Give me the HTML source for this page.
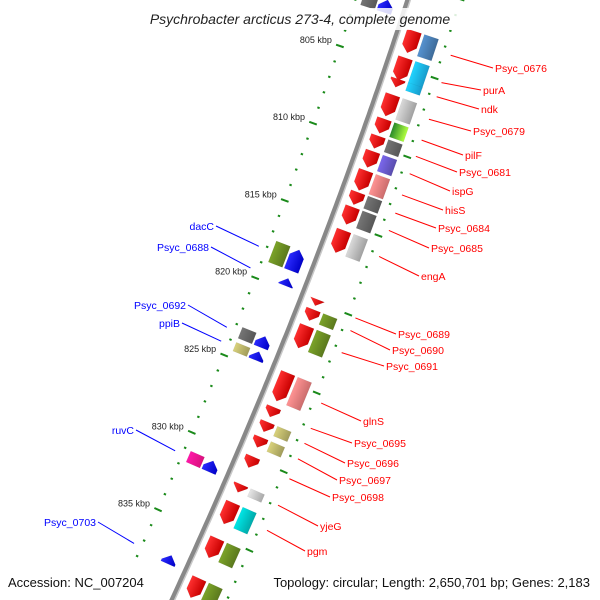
<!DOCTYPE html>
<html><head><meta charset="utf-8"><style>
html,body{margin:0;padding:0;background:#fff;overflow:hidden;width:600px;height:600px;}
svg{display:block;font-family:"Liberation Sans","DejaVu Sans",sans-serif;overflow:hidden;}
</style></head><body>
<svg id="map" width="600" height="600" viewBox="0 0 600 600" xmlns="http://www.w3.org/2000/svg">
<defs>
<clipPath id="frameclip"><rect x="0" y="0" width="600" height="600"/></clipPath>
</defs>
<g clip-path="url(#frameclip)">
<g id="backbone-layer"></g>
<g id="tick-layer"></g>
<g id="gene-layer"></g>
<g id="label-layer"></g>
</g>
<rect x="130" y="8" width="340" height="22" fill="#fff" opacity="0.85"/>
<text x="300" y="24" text-anchor="middle" font-size="14" font-style="italic" fill="#222">Psychrobacter arcticus 273-4, complete genome</text>
<text x="8" y="587" font-size="13" fill="#111">Accession: NC_007204</text>
<text x="590" y="587" text-anchor="end" font-size="13" fill="#111">Topology: circular; Length: 2,650,701 bp; Genes: 2,183</text>
</svg>
<script>
// ---- data ----
const geneStart = [802.53,804.23,805.70,806.60,808.20,809.30,810.25,811.45,812.90,813.80,815.25,819.80,820.40,821.35,824.30,826.65,827.60,828.57,829.80,831.60,832.65,834.95,837.50,
                   801.30,817.30,819.25,822.95,823.95,830.95,837.05];
const geneEnd   = [804.26,806.03,806.35,808.30,809.35,810.30,811.55,813.05,813.90,815.20,817.05,820.30,821.30,823.15,826.60,827.45,828.40,829.40,830.70,832.25,834.40,836.55,839.10,
                   802.30,819.00,819.85,823.85,824.65,831.85,837.75];
const geneStrand = [1,1,1,1,1,1,1,1,1,1,1,1,1,1,1,1,1,1,1,1,1,1,1,
                    -1,-1,-1,-1,-1,-1,-1];
const geneColor = ["#4a7fb5","#1cb8f0","#1cb8f0","#bdbdbd","pilF","#666666","#6a5acd","#f08080","#666666","#666666","#bdbdbd",null,"#6b8e23","#6b8e23","#f08080",null,"#bdb76b","#bdb76b",null,"#c8c8c8","#00c8c8","#6b8e23","#6b8e23",
                   "#666666","#6b8e23",null,"#666666","#bdb76b","#ff1493",null];
const geneLabel = ["Psyc_0676","purA","ndk","Psyc_0679","pilF","Psyc_0681","ispG","hisS","Psyc_0684","Psyc_0685","engA","Psyc_0689","Psyc_0690","Psyc_0691","glnS","Psyc_0695","Psyc_0696","Psyc_0697","Psyc_0698","yjeG","pgm",null,null,
                   null,"dacC","Psyc_0688","Psyc_0692","ppiB","ruvC","Psyc_0703"];
const tickStart = 800, tickEnd = 838;
// ---- scales ----
const NS="http://www.w3.org/2000/svg";
function bbY(k){return 62+(k-805)*15.6;}
function bbX(y){return 407.8-0.3246*y-0.0001141*y*y;}
function slope(y){return -0.3246-2*0.0001141*y;}
function frame(k){const y=bbY(k),x=bbX(y),s=slope(y);const n=Math.hypot(s,1);return {x,y,nx:1/n,ny:-s/n,ang:-Math.atan(s)*180/Math.PI};}
function pt(k,off){const f=frame(k);return [f.x+off*f.nx,f.y+off*f.ny];}
function mk(tag,attrs,parent){const e=document.createElementNS(NS,tag);for(const a in attrs)e.setAttribute(a,attrs[a]);parent.appendChild(e);return e;}
const svg=document.getElementById('map');
const defs=svg.querySelector('defs');
function grad(id,c1,c2){const g=mk('linearGradient',{id,x1:0,y1:0,x2:1,y2:0},defs);mk('stop',{offset:0,'stop-color':c1},g);mk('stop',{offset:1,'stop-color':c2},g);}
function shade(c,f){const n=parseInt(c.slice(1),16);let r=n>>16,g=(n>>8)&255,b=n&255;r=Math.min(255,Math.round(r*f));g=Math.min(255,Math.round(g*f));b=Math.min(255,Math.round(b*f));return '#'+((1<<24)+(r<<16)+(g<<8)+b).toString(16).slice(1);}
// ---- backbone ----
const bl=document.getElementById('backbone-layer');
let d='';for(let y=-5;y<=605;y+=5){d+=(y===-5?'M':'L')+bbX(y).toFixed(1)+' '+y+' ';}
const bp=mk('path',{d,fill:'none',stroke:'#888','stroke-width':5},bl);


const bp2=mk('path',{d,fill:'none',stroke:'#c8c8c8','stroke-width':1.5,transform:'translate(2.2,0.9)'},bl);


// ---- ticks ----
const tl=document.getElementById('tick-layer');
for(let k=tickStart;k<=tickEnd;k++){
  const major=k%5===0;
  [-50,50].forEach(off=>{
    const f=frame(k);const half=major?4:1.2;
    const [cx,cy]=pt(k,off);
    const t=mk('line',{x1:cx-half*f.nx,y1:cy-half*f.ny,x2:cx+half*f.nx,y2:cy+half*f.ny,stroke:'#1a8a1a','stroke-width':2},tl);
    
    
  });
  if(major){
    const [cx,cy]=pt(k,-50);
    const tx=mk('text',{x:cx-8,y:cy-3,'text-anchor':'end','font-size':9,fill:'#222'},tl);
    tx.textContent=k+' kbp';
    
    
  }
}
// ---- genes ----
const gl=document.getElementById('gene-layer');
grad('gred','#ff3030','#c80000');grad('gblue','#2b2bff','#0000c8');
grad('gpilF','#2a8a2a','#b0ff40');
const PX=13.2;
function geneShape(k0,k1,off,strand,fill,arrow,name){
  const kc=(k0+k1)/2,f=frame(kc);const L=(k1-k0)*PX,w=15;
  const x0=off-w/2,x1=off+w/2,xc=off;let pts;
  if(arrow){const h=Math.min(7,L);
    if(strand>0) pts=[[x0,-L/2],[x1,-L/2],[x1,L/2-h],[xc,L/2],[x0,L/2-h]];
    else pts=[[xc,-L/2],[x1,-L/2+h],[x1,L/2],[x0,L/2],[x0,-L/2+h]];
  } else pts=[[x0,-L/2],[x1,-L/2],[x1,L/2],[x0,L/2]];
  const p=mk('polygon',{points:pts.map(q=>q.join(',')).join(' '),fill,transform:`translate(${f.x.toFixed(2)},${f.y.toFixed(2)}) rotate(${f.ang.toFixed(2)})`,stroke:'rgba(0,0,0,0.08)','stroke-width':0.5},gl);
  
  
}
const gradCache={};
function colFill(c){if(c==='pilF')return 'url(#gpilF)';if(!gradCache[c]){const id='g'+c.slice(1);grad(id,shade(c,1.15),shade(c,0.85));gradCache[c]='url(#'+id+')';}return gradCache[c];}
for(let i=0;i<geneStart.length;i++){
  const s=geneStrand[i];
  if(s>0){
    geneShape(geneStart[i],geneEnd[i],16,s,'url(#gred)',true,'cds-forward');
    if(geneColor[i]) geneShape(geneStart[i],geneEnd[i],34,s,colFill(geneColor[i]),false,'cog-forward');
  } else {
    geneShape(geneStart[i],geneEnd[i],-19,s,'url(#gblue)',true,'cds-reverse');
    if(geneColor[i]) geneShape(geneStart[i],geneEnd[i],-36,s,colFill(geneColor[i]),false,'cog-reverse');
  }
}
// ---- labels ----
const labelPos={Psyc_0676:[495,72],purA:[483,94],ndk:[481,113],Psyc_0679:[473,135],pilF:[465,159],Psyc_0681:[459,176],ispG:[452,195],hisS:[445,214],Psyc_0684:[438,232],Psyc_0685:[431,252],engA:[421,280],
 Psyc_0689:[398,338],Psyc_0690:[392,354],Psyc_0691:[386,370],glnS:[363,425],Psyc_0695:[354,447],Psyc_0696:[347,467],Psyc_0697:[339,484],Psyc_0698:[332,501],yjeG:[320,530],pgm:[307,555],
 dacC:[214,230],Psyc_0688:[209,251],Psyc_0692:[186,309],ppiB:[180,327],ruvC:[134,434],Psyc_0703:[96,526]};
const ll=document.getElementById('label-layer');
for(let i=0;i<geneStart.length;i++){
  const lb=geneLabel[i];if(!lb||!labelPos[lb])continue;
  const s=geneStrand[i],c=s>0?'#ff0000':'#0000ff';
  const [lx,ly]=labelPos[lb];const kc=(geneStart[i]+geneEnd[i])/2;
  const [gx,gy]=pt(kc,s>0?58:-58);
  const ex=s>0?lx-2:lx+2,ey=ly-4;
  const ln=mk('line',{x1:gx,y1:gy,x2:ex,y2:ey,stroke:c,'stroke-width':1},ll);
  
  
  const t=mk('text',{x:lx,y:ly,'text-anchor':s>0?'start':'end','font-size':10.5,fill:c},ll);
  t.textContent=lb;
  
  
}
</script>
</body></html>
